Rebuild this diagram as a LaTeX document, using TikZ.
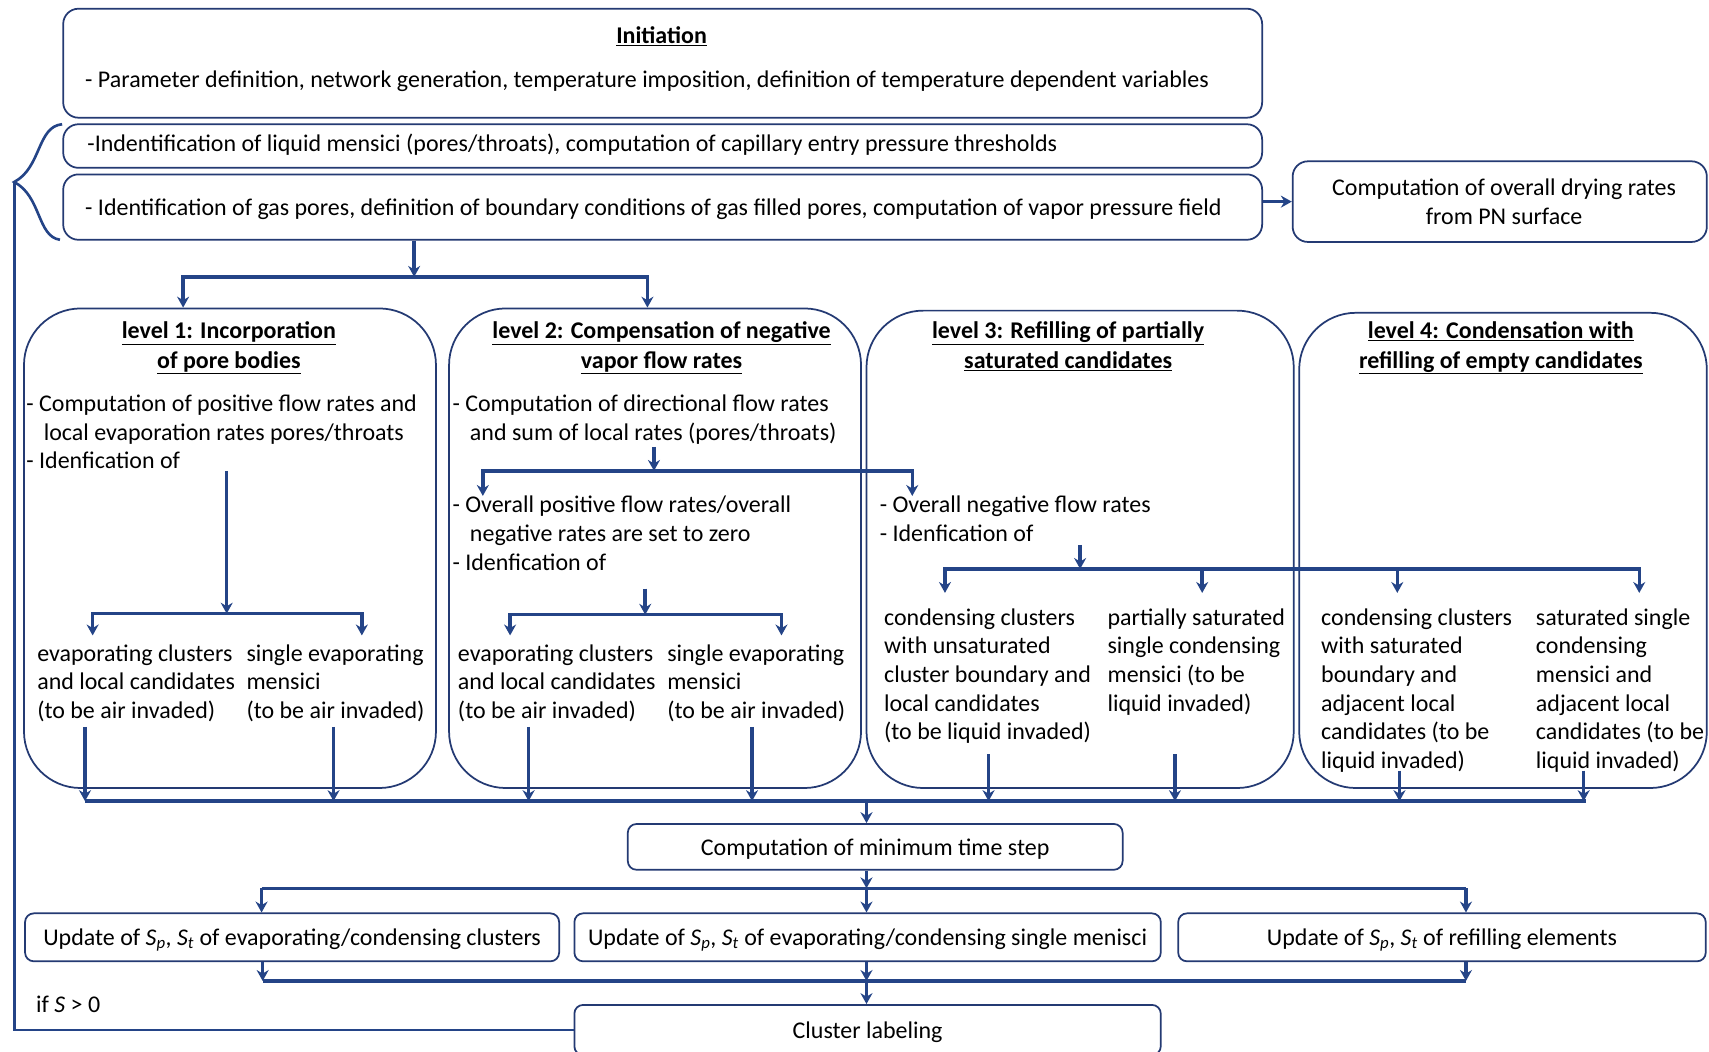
\documentclass[tikz,border=0pt]{standalone}
\usepackage{fontspec}
\setmainfont{Carlito}
\usetikzlibrary{arrows.meta,calc}
\definecolor{navy}{RGB}{36,58,115}
\definecolor{flow}{RGB}{36,68,135}
\newcommand{\SpSym}{\textit{S}\textsubscript{\textit{p}}}
\newcommand{\StSym}{\textit{S}\textsubscript{\textit{t}}}
\tikzset{
  box/.style={draw=navy, line width=1.6pt, rounded corners=14pt, inner sep=0pt, fill=white},
  lvlbox/.style={draw=navy, line width=1.6pt, rounded corners=52pt, inner sep=0pt},
  smallbox/.style={draw=navy, line width=1.6pt, rounded corners=8pt, inner sep=0pt,
    text height=18pt, text depth=3pt, font=\fontsize{22}{26}\selectfont},
  flowline/.style={draw=flow, line width=3.2pt},
  conn/.style={flowline, -{Stealth[length=10pt,width=11pt]}},
  conn2/.style={flowline, {Stealth[length=10pt,width=11pt]}-{Stealth[length=10pt,width=11pt]}},
  txt/.style={font=\fontsize{22}{26.3}\selectfont, inner sep=0pt, align=left,
    anchor=north west, execute at begin node=\strut, yshift=-4pt},
  ctxt/.style={txt, align=center, anchor=north},
  ttl/.style={font=\fontsize{22}{27}\selectfont\bfseries, inner sep=0pt, align=center,
    anchor=north, execute at begin node=\strut, yshift=-4pt},
}
\begin{document}
\begin{tikzpicture}[x=1pt,y=-1pt]
\useasboundingbox (0,0) rectangle (1568,965);
\clip (0,0) rectangle (1568,965);
\fill[white] (0,0) rectangle (1568,965);

% ---------- initialisation block ----------
\node[box, minimum width=1100, minimum height=100] (init) at (608,58) {};
\node[ttl, yshift=4pt] (tinit) at (607,21) {\underline{Initiation}};
\node[txt, yshift=3pt] (tparam) at (78,61) {- Parameter definition, network generation, temperature imposition, definition of temperature dependent variables};

\node[box, minimum width=1100, minimum height=40] (liq) at (608,134) {};
\node[txt, yshift=4pt] (tliq) at (80,120) {-Indentification of liquid mensici (pores/throats), computation of capillary entry pressure thresholds};

\node[box, minimum width=1100, minimum height=60] (gas) at (608,190) {};
\node[txt, yshift=3pt] (tgas) at (78,178) {- Identification of gas pores, definition of boundary conditions of gas filled pores, computation of vapor pressure field};

\node[box, minimum width=380, minimum height=74] (dry) at (1376,185) {};
\node[ctxt] (tdry) at (1380,160) {Computation of overall drying rates\\from PN surface};

\draw[conn] (dry.west -| gas.east) -- (dry.west);

% brace grouping the two identification steps, and the loop back
\coordinate (tip) at (13,167);
\draw[flow, line width=2.4pt] (57,114) .. controls (34,116) and (38,154) .. (tip)
  .. controls (38,180) and (34,217) .. (55,220);

% ---------- level boxes ----------
\node[lvlbox, minimum width=378, minimum height=440] (L1) at (211,503) {};
\node[lvlbox, minimum width=378, minimum height=440] (L2) at (601,503) {};
\node[lvlbox, minimum width=392, minimum height=438] (L3) at (991,504) {};
\node[lvlbox, minimum width=374, minimum height=436] (L4) at (1379,505) {};

\node[ttl] (t1) at (210,291) {\underline{level 1: Incorporation}\\\underline{of pore bodies}};
\node[ttl] (t2) at (607,291) {\underline{level 2: Compensation of negative}\\\underline{vapor flow rates}};
\node[ttl] (t3) at (980,291) {\underline{level 3: Refilling of partially}\\\underline{saturated candidates}};
\node[ttl] (t4) at (1377,291) {\underline{level 4: Condensation with}\\\underline{refilling of empty candidates}};

% level 1 text
\node[txt] (l1a) at (24,358) {- Computation of positive flow rates and\\\hspace*{16pt}local evaporation rates pores/throats\\- Idenfication of};
\node[txt] (l1b) at (34,587) {evaporating clusters\\and local candidates\\(to be air invaded)};
\node[txt] (l1c) at (226,587) {single evaporating\\mensici\\(to be air invaded)};

% level 2 text
\node[txt] (l2a) at (415,358) {- Computation of directional flow rates\\\hspace*{16pt}and sum of local rates (pores/throats)};
\node[txt] (l2b) at (415,451) {- Overall positive flow rates/overall\\\hspace*{16pt}negative rates are set to zero\\- Idenfication of};
\node[txt] (l2c) at (420,587) {evaporating clusters\\and local candidates\\(to be air invaded)};
\node[txt] (l2d) at (612,587) {single evaporating\\mensici\\(to be air invaded)};

% level 3 text
\node[txt] (l3a) at (807,451) {- Overall negative flow rates\\- Idenfication of};
\node[txt] (l3b) at (811,554) {condensing clusters\\with unsaturated\\cluster boundary and\\local candidates\\(to be liquid invaded)};
\node[txt] (l3c) at (1016,554) {partially saturated\\single condensing\\mensici (to be\\liquid invaded)};

% level 4 text
\node[txt] (l4a) at (1212,554) {condensing clusters\\with saturated\\boundary and\\adjacent local\\candidates (to be\\liquid invaded)};
\node[txt] (l4b) at (1409,554) {saturated single\\condensing\\mensici and\\adjacent local\\candidates (to be\\liquid invaded)};

% ---------- lower blocks ----------
\node[smallbox, minimum width=454, minimum height=42] (tstep) at (803,777) {Computation of minimum time step};
\node[smallbox, minimum width=490, minimum height=44] (u1) at (268,860) {Update of \SpSym, \StSym\ of evaporating/condensing clusters};
\node[smallbox, minimum width=538, minimum height=44] (u2) at (796,860) {Update of \SpSym, \StSym\ of evaporating/condensing single menisci};
\node[smallbox, minimum width=484, minimum height=44] (u3) at (1323,860) {Update of \SpSym, \StSym\ of refilling elements};
\node[smallbox, minimum width=538, minimum height=46] (clus) at (796,945) {Cluster labeling};
\node[txt] (ifs) at (33,906) {if \textit{S} > 0};

% ---------- junction points ----------
\coordinate (j0) at (380,254);
\coordinate (j0l) at (168,254);
\coordinate (j0r) at (594,254);

\coordinate (a1) at (208,432);
\coordinate (b1) at (208,563);
\coordinate (b1l) at (85,563);
\coordinate (b1r) at (332,563);
\coordinate (e1l) at (85,583);
\coordinate (e1r) at (332,583);

\coordinate (a2) at (600,410);
\coordinate (b2) at (600,432);
\coordinate (b2l) at (443,432);
\coordinate (b2r) at (837,432);
\coordinate (e2l) at (443,455);
\coordinate (e2r) at (837,455);

\coordinate (a3) at (592,540);
\coordinate (b3) at (592,564);
\coordinate (b3l) at (468,564);
\coordinate (b3r) at (717,564);
\coordinate (e3l) at (468,583);
\coordinate (e3r) at (717,583);

\coordinate (a4) at (991,500);
\coordinate (b4) at (991,522);
\coordinate (b4a) at (867,522);
\coordinate (b4b) at (1103,522);
\coordinate (b4c) at (1282,522);
\coordinate (b4d) at (1504,522);

\coordinate (s1) at (78,667);
\coordinate (s2) at (306,667);
\coordinate (s3) at (485,667);
\coordinate (s4) at (690,667);
\coordinate (s5) at (907,692);
\coordinate (s6) at (1078,692);
\coordinate (s7) at (1284,707);
\coordinate (s8) at (1453,707);

\coordinate (bbl) at (78,735);
\coordinate (bbr) at (1455,735);
\coordinate (bb) at (795,735);

\coordinate (c2) at (795,815);
\coordinate (c2l) at (240,815);
\coordinate (c2r) at (1345,815);

\coordinate (c3) at (795,900);
\coordinate (c3l) at (241,900);
\coordinate (c3r) at (1345,900);

% ---------- connectors ----------
\draw[conn] (gas.south -| j0) -- (j0);
\draw[conn2] (L1.north -| j0l) -- (j0l) -- (j0r) -- (L2.north -| j0r);

% level 1
\draw[conn] (a1) -- (b1);
\draw[conn2] (e1l) -- (b1l) -- (b1r) -- (e1r);

% level 2
\draw[conn] (a2) -- (b2);
\draw[conn2] (e2l) -- (b2l) -- (b2r) -- (e2r);
\draw[conn] (a3) -- (b3);
\draw[conn2] (e3l) -- (b3l) -- (b3r) -- (e3r);

% levels 3 and 4
\draw[conn] (a4) -- (b4);
\draw[conn2] ($(b4a)+(0,22)$) -- (b4a) -- (b4d) -- ($(b4d)+(0,22)$);
\draw[conn] (b4b) -- ++(0,22);
\draw[conn] (b4c) -- ++(0,22);

% collecting bar below the levels
\draw[flowline] (bbl) -- (bbr);
\foreach \p in {s1,s2,s3,s4,s5,s6,s7,s8}
  \draw[conn] (\p) -- (\p |- bbl);
\draw[conn] (bb) -- (tstep.north -| bb);

% time step to updates
\draw[conn] (tstep.south -| c2) -- (c2);
\draw[flowline] (c2l) -- (c2r);
\draw[conn] (c2l) -- (u1.north -| c2l);
\draw[conn] (c2) -- (u2.north -| c2);
\draw[conn] (c2r) -- (u3.north -| c2r);

% updates to cluster labeling
\draw[conn] (u1.south -| c3l) -- (c3l);
\draw[conn] (u2.south -| c3) -- (c3);
\draw[conn] (u3.south -| c3r) -- (c3r);
\draw[flowline] (c3l) -- (c3r);
\draw[conn] (c3) -- (clus.north -| c3);

% loop back
\draw[flow, line width=2.6pt] (clus.west) -| (tip);
\end{tikzpicture}
\end{document}
